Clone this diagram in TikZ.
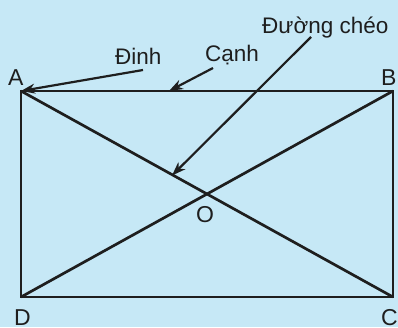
\documentclass[tikz,border=0pt]{standalone}
\usepackage{fontspec}
\setmainfont{Liberation Sans}
\usetikzlibrary{arrows.meta}
\definecolor{bgblue}{RGB}{198,232,246}
\definecolor{ink}{RGB}{30,30,30}
\begin{document}
\begin{tikzpicture}[x=1pt,y=-1pt,
  edge/.style={draw=ink,line width=2.7pt},
  pointer/.style={draw=ink,line width=2.2pt,-{Stealth[length=14pt,width=10pt]}},
  lbl/.style={text=ink,font=\fontsize{22.5}{24}\selectfont,inner sep=0pt,anchor=base west},
  vlbl/.style={text=ink,font=\fontsize{23}{25}\selectfont,inner sep=0pt,anchor=base west}]
\fill[bgblue] (0,0) rectangle (398,327);
\useasboundingbox (0,0) rectangle (398,327);
\coordinate (A) at (21,91);
\coordinate (B) at (393,91);
\coordinate (C) at (393,297);
\coordinate (D) at (21,297);
\coordinate (O) at (207,194);
\coordinate (canhTip) at (169,91);
\coordinate (cheoTip) at (172,175.5);
\draw[edge] (A) -- (B) -- (C) -- (D) -- cycle;
\draw[edge] (A) -- (C);
\draw[edge] (B) -- (D);
\node[vlbl] (lA) at (8,85) {A};
\node[vlbl] (lB) at (381,85) {B};
\node[vlbl] (lO) at (196,222) {O};
\node[vlbl] (lD) at (14,325.5) {D};
\node[vlbl] (lC) at (381,325.5) {C};
\node[lbl] (tDinh) at (115,64) {Đinh};
\node[lbl] (tCanh) at (205,61) {Cạnh};
\node[lbl] (tCheo) at (262,33) {Đường chéo};
\coordinate (dinhStart) at (143,70);
\coordinate (canhStart) at (213,68);
\coordinate (cheoStart) at (311,37);
\draw[pointer] (dinhStart) -- (A);
\draw[pointer] (canhStart) -- (canhTip);
\draw[pointer] (cheoStart) -- (cheoTip);
\end{tikzpicture}
\end{document}
